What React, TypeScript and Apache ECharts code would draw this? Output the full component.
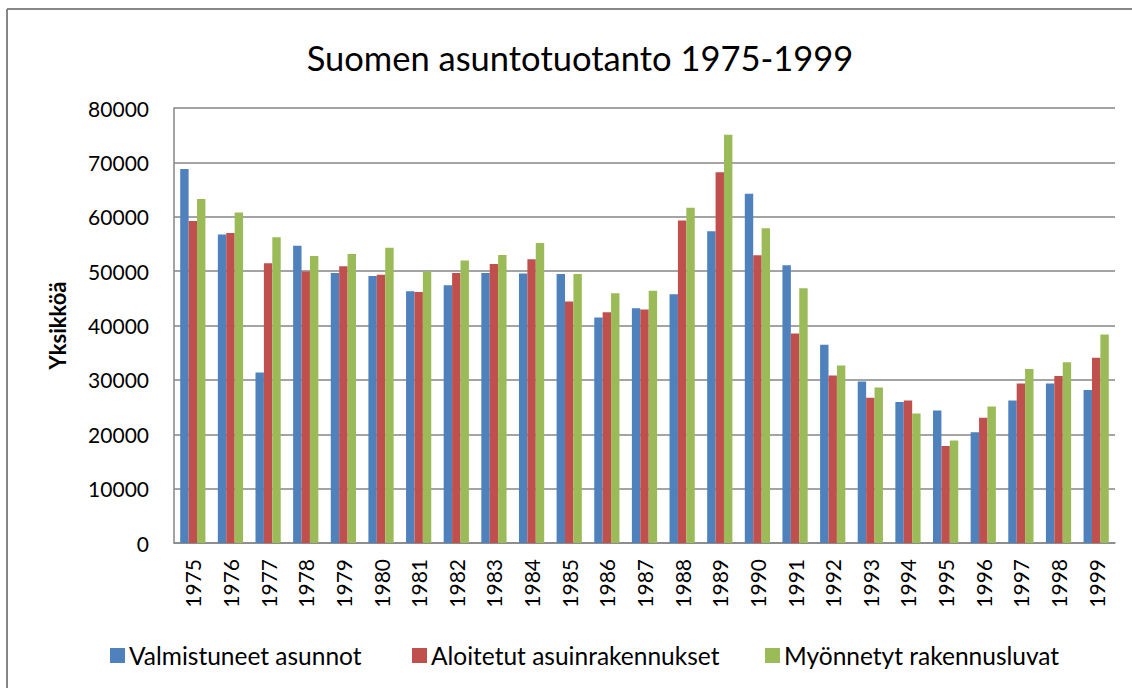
import React, { useEffect, useRef } from "react";
import * as echarts from "echarts";

const years = [
  "1975", "1976", "1977", "1978", "1979", "1980", "1981", "1982", "1983", "1984",
  "1985", "1986", "1987", "1988", "1989", "1990", "1991", "1992", "1993", "1994",
  "1995", "1996", "1997", "1998", "1999",
];
const valmistuneet = [
  68800, 56750, 31350, 54650, 49650, 49100, 46300, 47400, 49650, 49550,
  49450, 41450, 43150, 45750, 57350, 64250, 51100, 36450, 29700, 25950,
  24350, 20350, 26200, 29350, 28150,
];
const aloitetut = [
  59200, 57000, 51450, 49950, 50900, 49350, 46150, 49650, 51300, 52200,
  44400, 42450, 42950, 59300, 68200, 52900, 38550, 30800, 26700, 26200,
  17850, 23050, 29350, 30700, 34050,
];
const myonnetyt = [
  63250, 60800, 56250, 52800, 53150, 54300, 49950, 51950, 52950, 55150,
  49450, 45950, 46400, 61650, 75100, 57900, 46850, 32650, 28600, 23800,
  18850, 25100, 32000, 33250, 38350,
];
const seriesNames = ["Valmistuneet asunnot", "Aloitetut asuinrakennukset", "Myönnetyt rakennusluvat"];
const colors = ["#4F81BD", "#C0504D", "#9BBB59"];

const FONT = "Lato";

export default function App() {
  const ref = useRef<HTMLDivElement>(null);
  useEffect(() => {
    document.body.style.margin = "0";
    document.body.style.overflow = "hidden";
    const chart = echarts.init(ref.current!, null, { renderer: "svg" });
    const dataSets = [valmistuneet, aloitetut, myonnetyt];
    const legendLefts = [105, 407, 760];
    chart.setOption({
      animation: false,
      color: colors,
      textStyle: { fontFamily: FONT, color: "#000" },
      title: {
        text: "Suomen asuntotuotanto 1975-1999",
        left: 575,
        textAlign: "center",
        top: 35,
        textStyle: { fontFamily: FONT, fontSize: 34.5, fontWeight: "normal", color: "#000" },
      },
      legend: seriesNames.map((n, i) => ({
        data: [n],
        left: legendLefts[i],
        top: 638,
        itemWidth: 15,
        itemHeight: 15,
        itemGap: 4,
        icon: "rect",
        textStyle: { fontFamily: FONT, fontSize: 24.5, color: "#000", padding: [0, 0, 0, -1] },
      })),
      grid: { left: 174, right: 17, top: 108, bottom: 145, containLabel: false },
      xAxis: {
        type: "category",
        data: years,
        axisLine: { lineStyle: { color: "#868686", width: 1.5 } },
        axisTick: { show: false },
        axisLabel: { rotate: 90, fontSize: 21, fontFamily: FONT, color: "#000", margin: 16, interval: 0 },
      },
      yAxis: {
        type: "value",
        min: 0,
        max: 80000,
        interval: 10000,
        name: "Yksikköä",
        nameLocation: "middle",
        nameRotate: 90,
        nameGap: 106,
        nameTextStyle: { fontFamily: FONT, fontSize: 22, fontWeight: "bold", color: "#000" },
        axisLine: { show: true, lineStyle: { color: "#868686", width: 1.5 } },
        axisTick: { show: false },
        axisLabel: {
          fontSize: 21,
          fontFamily: FONT,
          color: "#000",
          margin: 25,
          formatter: (v: number) => String(v),
        },
        splitLine: { lineStyle: { color: "#868686", width: 1.5 } },
      },
      series: seriesNames.map((n, i) => ({
        name: n,
        type: "bar",
        data: dataSets[i],
        barGap: "0%",
        barCategoryGap: "33%",
        itemStyle: { color: colors[i] },
      })),
      graphic: [
        {
          type: "line",
          shape: { x1: 7, y1: 9, x2: 1132, y2: 9 },
          style: { stroke: "#868686", lineWidth: 2 },
          silent: true,
        },
        {
          type: "line",
          shape: { x1: 7, y1: 9, x2: 7, y2: 688 },
          style: { stroke: "#868686", lineWidth: 2 },
          silent: true,
        },
      ],
    });
    return () => chart.dispose();
  }, []);
  return <div ref={ref} style={{ width: 1132, height: 688 }} />;
}
